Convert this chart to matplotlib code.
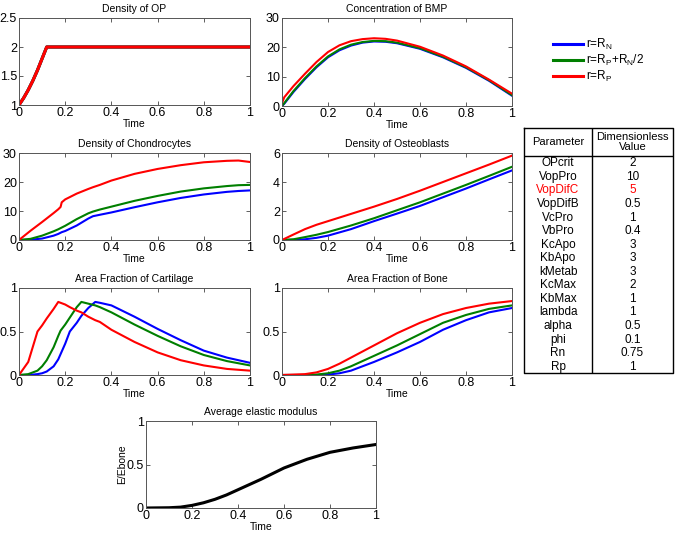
import matplotlib
matplotlib.use("Agg")
import matplotlib.pyplot as plt
from matplotlib.lines import Line2D

plt.rcParams['font.family'] = ['Liberation Sans', 'DejaVu Sans']

W, H = 675, 533

# ── data ────────────────────────────────────────────────────────────────
t_op = [0, 0.02, 0.04, 0.06, 0.08, 0.10, 0.12, 1.0]
op = [1.0, 1.12, 1.26, 1.42, 1.60, 1.80, 2.0, 2.0]

t_bmp = [0, 0.01, 0.05, 0.1, 0.15, 0.2, 0.25, 0.3, 0.35, 0.4, 0.45, 0.5, 0.6, 0.7, 0.8, 0.9, 1.0]
bmp_n = [0, 0.8, 4.8, 9.2, 13.2, 16.6, 19.0, 20.6, 21.6, 22.0, 21.9, 21.4, 19.5, 16.6, 13.0, 8.6, 3.5]
bmp_m = [0, 1.0, 5.1, 9.5, 13.5, 16.9, 19.3, 20.9, 21.8, 22.2, 22.1, 21.6, 19.7, 16.8, 13.2, 8.8, 3.7]
bmp_p = [1.0, 3.0, 6.8, 11.0, 15.0, 18.4, 20.7, 22.1, 22.8, 23.1, 22.9, 22.3, 20.2, 17.2, 13.5, 9.0, 4.2]

t_ch = [0, 0.05, 0.1, 0.15, 0.17, 0.18, 0.185, 0.2, 0.25, 0.3, 0.32, 0.35, 0.4, 0.5, 0.6, 0.7, 0.8, 0.9, 0.95, 1.0]
ch_n = [0, 0.1, 0.5, 1.5, 2.1, 2.5, 2.7, 3.1, 5.0, 7.4, 8.2, 8.7, 9.5, 11.3, 13.0, 14.5, 15.7, 16.6, 16.9, 17.1]
ch_m = [0, 0.4, 1.5, 3.0, 3.7, 4.1, 4.3, 4.9, 7.2, 9.2, 9.8, 10.5, 11.5, 13.5, 15.2, 16.7, 17.8, 18.6, 18.9, 19.0]
ch_p = [0, 3.2, 6.2, 9.3, 10.6, 11.4, 13.0, 14.0, 16.0, 17.6, 18.2, 19.0, 20.5, 22.8, 24.5, 25.8, 26.8, 27.3, 27.4, 26.9]

t_ob = [0, 0.05, 0.1, 0.15, 0.2, 0.3, 0.4, 0.5, 0.6, 0.7, 0.8, 0.9, 1.0]
ob_n = [0, 0.01, 0.05, 0.15, 0.30, 0.75, 1.30, 1.82, 2.35, 2.95, 3.55, 4.18, 4.80]
ob_m = [0, 0.05, 0.20, 0.36, 0.55, 1.00, 1.50, 2.05, 2.60, 3.20, 3.80, 4.42, 5.05]
ob_p = [0, 0.38, 0.75, 1.05, 1.30, 1.80, 2.30, 2.83, 3.40, 4.00, 4.60, 5.20, 5.82]

t_cf = [0, 0.04, 0.08, 0.1, 0.12, 0.15, 0.17, 0.18, 0.2, 0.22, 0.25, 0.27, 0.3, 0.33, 0.35, 0.4,
        0.5, 0.6, 0.7, 0.8, 0.9, 1.0]
cf_n = [0, 0.0, 0.01, 0.02, 0.04, 0.10, 0.18, 0.24, 0.36, 0.50, 0.60, 0.68, 0.77, 0.84, 0.83, 0.80,
        0.67, 0.53, 0.40, 0.28, 0.20, 0.14]
cf_m = [0, 0.01, 0.05, 0.10, 0.17, 0.32, 0.45, 0.51, 0.58, 0.66, 0.78, 0.84, 0.82, 0.80, 0.78, 0.72,
        0.58, 0.45, 0.33, 0.23, 0.16, 0.11]
cf_p = [0, 0.15, 0.50, 0.57, 0.65, 0.76, 0.84, 0.83, 0.81, 0.78, 0.74, 0.72, 0.67, 0.63, 0.61, 0.52,
        0.38, 0.26, 0.17, 0.11, 0.07, 0.05]

t_bf = [0, 0.1, 0.15, 0.2, 0.25, 0.3, 0.35, 0.4, 0.5, 0.6, 0.7, 0.8, 0.9, 1.0]
bf_n = [0, 0.0, 0.0, 0.005, 0.02, 0.05, 0.10, 0.15, 0.26, 0.38, 0.52, 0.63, 0.72, 0.77]
bf_m = [0, 0.0, 0.005, 0.02, 0.05, 0.10, 0.16, 0.22, 0.34, 0.47, 0.60, 0.69, 0.76, 0.80]
bf_p = [0, 0.01, 0.03, 0.07, 0.13, 0.20, 0.27, 0.34, 0.48, 0.60, 0.70, 0.77, 0.82, 0.85]

t_em = [0, 0.1, 0.15, 0.2, 0.25, 0.3, 0.35, 0.4, 0.5, 0.6, 0.7, 0.8, 0.9, 1.0]
em = [0, 0.003, 0.01, 0.03, 0.06, 0.10, 0.15, 0.21, 0.33, 0.46, 0.56, 0.64, 0.69, 0.73]

labels = [r"r=R$_\mathregular{N}$", r"r=R$_\mathregular{P}$+R$_\mathregular{N}$/2", r"r=R$_\mathregular{P}$"]
colors = ["#0000ff", "#007f00", "#ff0000"]

param_names = ["OPcrit", "VopPro", "VopDifC", "VopDifB", "VcPro", "VbPro", "KcApo", "KbApo",
               "kMetab", "KcMax", "KbMax", "lambda", "alpha", "phi", "Rn", "Rp"]
param_values = ["2", "10", "5", "0.5", "1", "0.4", "3", "3", "3", "2", "1", "1", "0.5", "0.1", "0.75", "1"]
highlight = "VopDifC"


def px_axes(fig, left, top, right, bottom):
    return fig.add_axes([left / W, 1 - bottom / H, (right - left) / W, (bottom - top) / H])


def style_axis(ax, title, ylim, yticks, yticklabels=None):
    ax.set_xlim(0, 1)
    ax.set_ylim(*ylim)
    ax.set_xticks([0, 0.2, 0.4, 0.6, 0.8, 1])
    ax.set_xticklabels(["0", "0.2", "0.4", "0.6", "0.8", "1"])
    ax.set_yticks(yticks)
    if yticklabels is not None:
        ax.set_yticklabels(yticklabels)
    ax.tick_params(direction='in', top=True, right=True, length=3, width=0.6,
                   labelsize=9, pad=1.5, colors="#444444", labelcolor="black")
    for s in ax.spines.values():
        s.set_color("#555555")
        s.set_linewidth(0.7)
    ax.set_title(title, fontsize=7.5, pad=4)
    ax.set_xlabel("Time", fontsize=7.5, labelpad=0)


fig = plt.figure(figsize=(W / 100, H / 100), dpi=100)

ax = px_axes(fig, 19, 18, 250, 105)
for c in colors:
    ax.plot(t_op, op, color=c, lw=2.2)
style_axis(ax, "Density of OP", (1, 2.5), [1, 1.5, 2, 2.5], ["1", "1.5", "2", "2.5"])

ax = px_axes(fig, 282, 18, 512, 106)
for y, c in zip([bmp_n, bmp_m, bmp_p], colors):
    ax.plot(t_bmp, y, color=c, lw=1.5)
style_axis(ax, "Concentration of BMP", (0, 30), [0, 10, 20, 30])

ax = px_axes(fig, 19, 153, 250, 240)
for y, c in zip([ch_n, ch_m, ch_p], colors):
    ax.plot(t_ch, y, color=c, lw=1.5)
style_axis(ax, "Density of Chondrocytes", (0, 30), [0, 10, 20, 30])

ax = px_axes(fig, 282, 153, 512, 240)
for y, c in zip([ob_n, ob_m, ob_p], colors):
    ax.plot(t_ob, y, color=c, lw=1.5)
style_axis(ax, "Density of Osteoblasts", (0, 6), [0, 2, 4, 6])

ax = px_axes(fig, 19, 288, 250, 375)
for y, c in zip([cf_n, cf_m, cf_p], colors):
    ax.plot(t_cf, y, color=c, lw=1.5)
style_axis(ax, "Area Fraction of Cartilage", (0, 1), [0, 0.5, 1], ["0", "0.5", "1"])

ax = px_axes(fig, 282, 288, 512, 375)
for y, c in zip([bf_n, bf_m, bf_p], colors):
    ax.plot(t_bf, y, color=c, lw=1.5)
style_axis(ax, "Area Fraction of Bone", (0, 1), [0, 0.5, 1], ["0", "0.5", "1"])

ax = px_axes(fig, 146, 421, 376, 508)
ax.plot(t_em, em, color="black", lw=2.2)
style_axis(ax, "Average elastic modulus", (0, 1), [0, 0.5, 1], ["0", "0.5", "1"])
ax.set_ylabel("E/Ebone", fontsize=7.5, labelpad=0)

# legend
handles = [Line2D([], [], color=c, lw=2.2) for c in colors]
fig.legend(handles, labels, loc="upper left", bbox_to_anchor=(548 / W, 1 - 32 / H),
           frameon=False, fontsize=8.5, handlelength=2.6, handletextpad=0.25,
           labelspacing=0.08, borderaxespad=0)

# parameter table
tx = px_axes(fig, 524, 128, 673, 373)
tx.set_xlim(0, 1)
tx.set_ylim(373, 128)
tx.axis("off")
lw = 1.0
tx.plot([0, 1, 1, 0, 0], [128, 128, 373, 373, 128], color="black", lw=lw, clip_on=False)
div = (592 - 524) / (673 - 524)
tx.plot([div, div], [128, 373], color="black", lw=lw)
tx.plot([0, 1], [156, 156], color="black", lw=lw)
tx.text(div / 2, 142, "Parameter", ha="center", va="center", fontsize=8)
tx.text((div + 1) / 2, 142, "Dimensionless\nValue", ha="center", va="center",
        fontsize=8, linespacing=0.95)
row_h = (373 - 156) / len(param_names)
for i, (n, v) in enumerate(zip(param_names, param_values)):
    yc = 156 + row_h * (i + 0.5) + 0.5
    col = "#ff0000" if n == highlight else "black"
    tx.text(div / 2, yc, n, ha="center", va="center", fontsize=8.5, color=col)
    tx.text((div + 1) / 2, yc, v, ha="center", va="center", fontsize=8.5, color=col)

fig.savefig("out.png", dpi=100, facecolor="white")
